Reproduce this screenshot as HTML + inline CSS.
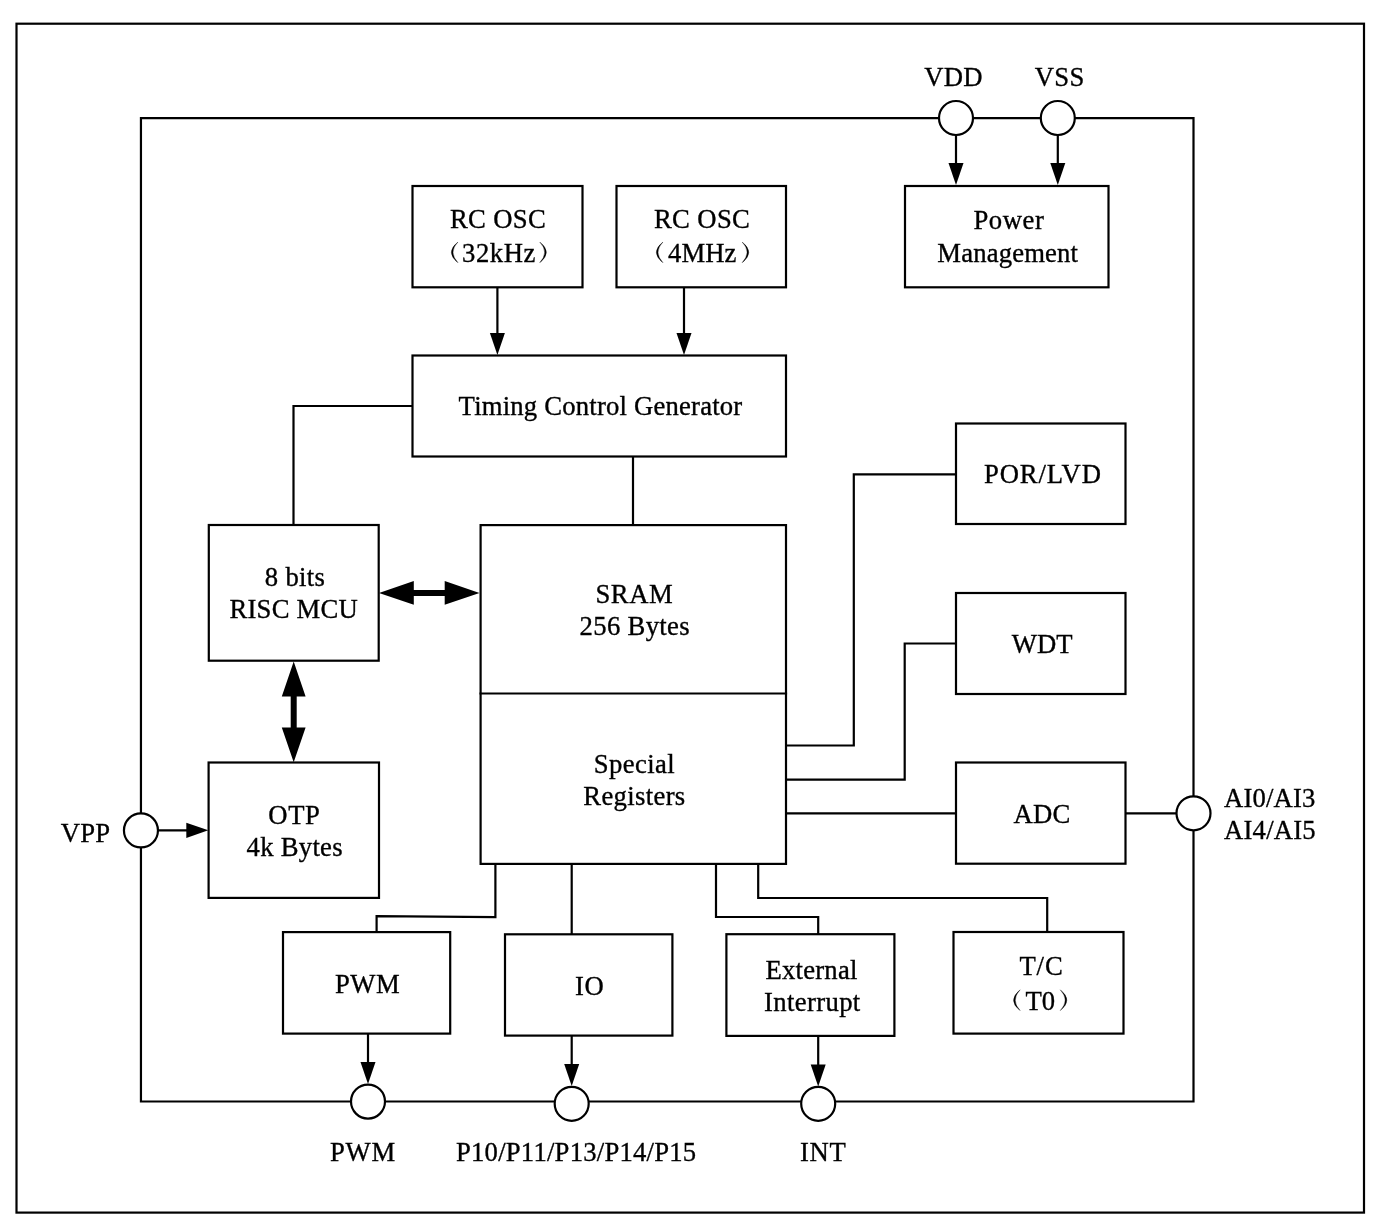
<!DOCTYPE html>
<html><head><meta charset="utf-8"><style>
html,body{margin:0;padding:0;background:#fff;width:1385px;height:1228px;overflow:hidden}
svg{display:block}
text{font-family:"Liberation Serif",serif;fill:#000;stroke:#000;stroke-width:0.35px}
</style></head><body><div style="will-change:transform">
<svg width="1385" height="1228" viewBox="0 0 1385 1228">
<rect x="16.5" y="23.7" width="1347.5" height="1188.8999999999999" fill="none" stroke="#000" stroke-width="2.2"/>
<path d="M140.95,118.1 L1193.5,118.1 L1193.5,1101.5 L140.95,1101.5 L140.95,118.1" fill="none" stroke="#000" stroke-width="2.2" stroke-linejoin="miter" stroke-linecap="square"/>
<path d="M956,135 L956,164" fill="none" stroke="#000" stroke-width="2.2" stroke-linejoin="miter" stroke-linecap="square"/>
<path d="M948.5,163 L963.5,163 L956,185 Z" fill="#000"/>
<path d="M1057.8,135 L1057.8,164" fill="none" stroke="#000" stroke-width="2.2" stroke-linejoin="miter" stroke-linecap="square"/>
<path d="M1050.3,163 L1065.3,163 L1057.8,185 Z" fill="#000"/>
<path d="M497.4,287.3 L497.4,334" fill="none" stroke="#000" stroke-width="2.2" stroke-linejoin="miter" stroke-linecap="square"/>
<path d="M489.9,333 L504.9,333 L497.4,355 Z" fill="#000"/>
<path d="M684,287.3 L684,334" fill="none" stroke="#000" stroke-width="2.2" stroke-linejoin="miter" stroke-linecap="square"/>
<path d="M676.5,333 L691.5,333 L684,355 Z" fill="#000"/>
<path d="M412.5,406 L293.5,406 L293.5,525" fill="none" stroke="#000" stroke-width="2.2" stroke-linejoin="miter" stroke-linecap="square"/>
<path d="M633,456.5 L633,525" fill="none" stroke="#000" stroke-width="2.2" stroke-linejoin="miter" stroke-linecap="square"/>
<path d="M956,474.3 L853.8,474.3 L853.8,745.5 L786,745.5" fill="none" stroke="#000" stroke-width="2.2" stroke-linejoin="miter" stroke-linecap="square"/>
<path d="M956,643.5 L904.7,643.5 L904.7,779.7 L786,779.7" fill="none" stroke="#000" stroke-width="2.2" stroke-linejoin="miter" stroke-linecap="square"/>
<path d="M786,813.3 L956,813.3" fill="none" stroke="#000" stroke-width="2.2" stroke-linejoin="miter" stroke-linecap="square"/>
<path d="M1125.5,813.3 L1176.5,813.3" fill="none" stroke="#000" stroke-width="2.2" stroke-linejoin="miter" stroke-linecap="square"/>
<path d="M157.9,830.3 L187.3,830.3" fill="none" stroke="#000" stroke-width="2.2" stroke-linejoin="miter" stroke-linecap="square"/>
<path d="M186.3,822.6999999999999 L186.3,837.9 L208.3,830.3 Z" fill="#000"/>
<path d="M495.4,863.9 L495.4,917.1 L376.6,916.1 L376.6,932.1" fill="none" stroke="#000" stroke-width="2.2" stroke-linejoin="miter" stroke-linecap="square"/>
<path d="M571.7,863.5 L571.7,934.3" fill="none" stroke="#000" stroke-width="2.2" stroke-linejoin="miter" stroke-linecap="square"/>
<path d="M716,863.5 L716,917 L818.2,917 L818.2,934.2" fill="none" stroke="#000" stroke-width="2.2" stroke-linejoin="miter" stroke-linecap="square"/>
<path d="M758.2,863.5 L758.2,898 L1047.2,898 L1047.2,932" fill="none" stroke="#000" stroke-width="2.2" stroke-linejoin="miter" stroke-linecap="square"/>
<path d="M368,1033.6 L368,1063" fill="none" stroke="#000" stroke-width="2.2" stroke-linejoin="miter" stroke-linecap="square"/>
<path d="M360.5,1062 L375.5,1062 L368,1084 Z" fill="#000"/>
<path d="M571.7,1035.6 L571.7,1065" fill="none" stroke="#000" stroke-width="2.2" stroke-linejoin="miter" stroke-linecap="square"/>
<path d="M564.2,1064 L579.2,1064 L571.7,1086 Z" fill="#000"/>
<path d="M818.2,1035.9 L818.2,1065.5" fill="none" stroke="#000" stroke-width="2.2" stroke-linejoin="miter" stroke-linecap="square"/>
<path d="M810.7,1064.5 L825.7,1064.5 L818.2,1086.5 Z" fill="#000"/>
<path d="M379,592.9 L413.8,581.0 L413.8,589.9 L444.7,589.9 L444.7,581.0 L479.5,592.9 L444.7,604.8 L444.7,595.9 L413.8,595.9 L413.8,604.8 Z" fill="#000"/>
<path d="M293.7,661.6 L281.8,696.4 L290.7,696.4 L290.7,727.5 L281.8,727.5 L293.7,762.3 L305.59999999999997,727.5 L296.7,727.5 L296.7,696.4 L305.59999999999997,696.4 Z" fill="#000"/>
<rect x="412.5" y="186" width="170.0" height="101.3" fill="#fff" stroke="#000" stroke-width="2.2"/>
<rect x="616.5" y="186" width="169.5" height="101.3" fill="#fff" stroke="#000" stroke-width="2.2"/>
<rect x="905" y="186" width="203.5" height="101.3" fill="#fff" stroke="#000" stroke-width="2.2"/>
<rect x="412.5" y="355.5" width="373.5" height="101.0" fill="#fff" stroke="#000" stroke-width="2.2"/>
<rect x="956" y="423.5" width="169.5" height="100.5" fill="#fff" stroke="#000" stroke-width="2.2"/>
<rect x="208.8" y="525" width="169.9" height="135.7" fill="#fff" stroke="#000" stroke-width="2.2"/>
<rect x="480.6" y="525.1" width="305.4" height="338.8" fill="#fff" stroke="#000" stroke-width="2.2"/>
<path d="M480.6,693.5 L786,693.5" fill="none" stroke="#000" stroke-width="2.2" stroke-linejoin="miter" stroke-linecap="square"/>
<rect x="956" y="593" width="169.5" height="101" fill="#fff" stroke="#000" stroke-width="2.2"/>
<rect x="956" y="762.5" width="169.5" height="101.2" fill="#fff" stroke="#000" stroke-width="2.2"/>
<rect x="208.6" y="762.5" width="170.4" height="135.4" fill="#fff" stroke="#000" stroke-width="2.2"/>
<rect x="283" y="932.1" width="167.2" height="101.5" fill="#fff" stroke="#000" stroke-width="2.2"/>
<rect x="505" y="934.3" width="167.4" height="101.3" fill="#fff" stroke="#000" stroke-width="2.2"/>
<rect x="726.4" y="934.2" width="168.0" height="101.7" fill="#fff" stroke="#000" stroke-width="2.2"/>
<rect x="953.5" y="932" width="170.0" height="101.6" fill="#fff" stroke="#000" stroke-width="2.2"/>
<circle cx="956" cy="118" r="17" fill="#fff" stroke="#000" stroke-width="2.2"/>
<circle cx="1057.8" cy="118" r="17" fill="#fff" stroke="#000" stroke-width="2.2"/>
<circle cx="140.95" cy="830.4" r="17" fill="#fff" stroke="#000" stroke-width="2.2"/>
<circle cx="1193.5" cy="813.3" r="17" fill="#fff" stroke="#000" stroke-width="2.2"/>
<circle cx="368" cy="1101.6" r="17" fill="#fff" stroke="#000" stroke-width="2.2"/>
<circle cx="571.7" cy="1103.8" r="17" fill="#fff" stroke="#000" stroke-width="2.2"/>
<circle cx="818.2" cy="1103.8" r="17" fill="#fff" stroke="#000" stroke-width="2.2"/>
<text x="924.23" y="86" font-size="26.67" letter-spacing="0.270">VDD</text>
<text x="1034.73" y="86" font-size="26.67" letter-spacing="0.346">VSS</text>
<text x="449.88" y="227.85" font-size="26.67" letter-spacing="0.343">RC OSC</text>
<text x="462.11" y="261.7" font-size="26.67" letter-spacing="0.536">32kHz</text>
<text x="653.98" y="227.7" font-size="26.67" letter-spacing="0.363">RC OSC</text>
<text x="668.06" y="261.75" font-size="26.67" letter-spacing="0.097">4MHz</text>
<text x="973.38" y="228.9" font-size="26.67" letter-spacing="0.576">Power</text>
<text x="937.28" y="262.1" font-size="26.67" letter-spacing="0.171">Management</text>
<text x="458.59" y="414.9" font-size="26.67" letter-spacing="0.208">Timing Control Generator</text>
<text x="983.93" y="482.8" font-size="26.67" letter-spacing="0.898">POR/LVD</text>
<text x="264.79" y="585.65" font-size="26.67" letter-spacing="0.303">8 bits</text>
<text x="229.48" y="617.6" font-size="26.67" letter-spacing="0.226">RISC MCU</text>
<text x="595.43" y="602.7" font-size="26.67" letter-spacing="0.593">SRAM</text>
<text x="579.56" y="634.6" font-size="26.67" letter-spacing="0.336">256 Bytes</text>
<text x="1011.70" y="652.7" font-size="26.67" letter-spacing="0.127">WDT</text>
<text x="593.73" y="772.9" font-size="26.67" letter-spacing="0.402">Special</text>
<text x="583.28" y="804.8" font-size="26.67" letter-spacing="0.346">Registers</text>
<text x="1013.54" y="822.6" font-size="26.67" letter-spacing="0.294">ADC</text>
<text x="1224.04" y="806.6" font-size="26.67" letter-spacing="0.152">AI0/AI3</text>
<text x="1224.04" y="838.8" font-size="26.67" letter-spacing="0.217">AI4/AI5</text>
<text x="60.63" y="841.8" font-size="26.67" letter-spacing="0.306">VPP</text>
<text x="268.27" y="823.9" font-size="26.67" letter-spacing="0.650">OTP</text>
<text x="246.56" y="855.7" font-size="26.67" letter-spacing="0.283">4k Bytes</text>
<text x="335.08" y="992.8" font-size="26.67" letter-spacing="0.409">PWM</text>
<text x="575.09" y="994.8" font-size="26.67" letter-spacing="0.559">IO</text>
<text x="765.38" y="978.65" font-size="26.67" letter-spacing="0.252">External</text>
<text x="764.09" y="1010.6" font-size="26.67" letter-spacing="0.366">Interrupt</text>
<text x="1019.39" y="975.1" font-size="26.67" letter-spacing="0.949">T/C</text>
<text x="1025.39" y="1009.8" font-size="26.67" letter-spacing="0.094">T0</text>
<text x="455.98" y="1160.8" font-size="26.67" letter-spacing="0.230">P10/P11/P13/P14/P15</text>
<text x="330.08" y="1160.7" font-size="26.67" letter-spacing="0.709">PWM</text>
<text x="799.99" y="1160.8" font-size="26.67" letter-spacing="0.683">INT</text>
<path d="M457.9,242 Q444.80,252.35 457.9,262.7 Q448.20,252.35 457.9,242 Z" fill="#000" stroke="#000" stroke-width="0.35"/>
<path d="M539.8,242 Q552.90,252.35 539.8,262.7 Q549.50,252.35 539.8,242 Z" fill="#000" stroke="#000" stroke-width="0.35"/>
<path d="M662.9000000000001,242 Q649.80,252.35 662.9000000000001,262.7 Q653.20,252.35 662.9000000000001,242 Z" fill="#000" stroke="#000" stroke-width="0.35"/>
<path d="M742.1999999999999,242 Q755.30,252.35 742.1999999999999,262.7 Q751.90,252.35 742.1999999999999,242 Z" fill="#000" stroke="#000" stroke-width="0.35"/>
<path d="M1020.1,989.8 Q1007.00,1000.20 1020.1,1010.6 Q1010.40,1000.20 1020.1,989.8 Z" fill="#000" stroke="#000" stroke-width="0.35"/>
<path d="M1060.3,989.8 Q1073.40,1000.20 1060.3,1010.6 Q1070.00,1000.20 1060.3,989.8 Z" fill="#000" stroke="#000" stroke-width="0.35"/>
</svg></div>
</body></html>
